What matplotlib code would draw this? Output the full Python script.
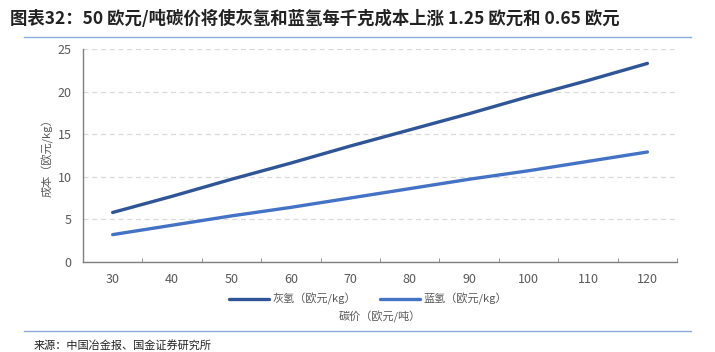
import numpy as np
import matplotlib
matplotlib.use("Agg")
import matplotlib.pyplot as plt
from matplotlib.lines import Line2D

plt.rcParams['font.family'] = ['Noto Sans CJK SC', 'DejaVu Sans']

# carbon price categories (EUR/t)
carbon_price = ['30', '40', '50', '60', '70', '80', '90', '100', '110', '120']
# hydrogen cost (EUR/kg)
grey_h2 = [5.8, 7.7, 9.7, 11.6, 13.6, 15.5, 17.4, 19.4, 21.3, 23.3]
blue_h2 = [3.2, 4.3, 5.4, 6.4, 7.5, 8.6, 9.7, 10.7, 11.8, 12.9]
yticks = [0, 5, 10, 15, 20, 25]

grey_col = '#2F5597'
blue_col = '#4472C4'
txt_col = '#595959'

fig = plt.figure(figsize=(7.15, 3.52), dpi=100)
ax = fig.add_axes([0.116, 0.256, 0.831, 0.605])

x = np.arange(len(carbon_price))
ax.plot(x, grey_h2, color=grey_col, lw=2.4, solid_capstyle='round', label='灰氢（欧元/kg）')
ax.plot(x, blue_h2, color=blue_col, lw=2.4, solid_capstyle='round', label='蓝氢（欧元/kg）')

ax.set_xlim(-0.5, len(carbon_price) - 0.5)
ax.set_ylim(0, 25)
ax.set_yticks(yticks)
ax.set_xticks(x)
ax.set_xticklabels(carbon_price)
ax.set_xticks(np.arange(0.5, len(carbon_price), 1), minor=True)
ax.tick_params(axis='x', which='major', length=0, pad=8, labelsize=9, labelcolor=txt_col)
ax.tick_params(axis='x', which='minor', direction='in', length=3, color='#7f7f7f')
ax.tick_params(axis='y', length=0, pad=8, labelsize=9, labelcolor=txt_col)
ax.yaxis.grid(True, linestyle=(0, (4, 3)), color='#d9d9d9', lw=0.9)
ax.set_axisbelow(True)
for s in ['top', 'right']:
    ax.spines[s].set_visible(False)
for s in ['left', 'bottom']:
    ax.spines[s].set_color('#7f7f7f')
    ax.spines[s].set_linewidth(1.0)

ax.set_ylabel('成本（欧元/kg）', fontsize=8, color=txt_col, labelpad=3)
ax.set_xlabel('碳价（欧元/吨）', fontsize=8, color=txt_col, labelpad=18)

leg = ax.legend(loc='upper center', bbox_to_anchor=(0.48, -0.1), ncol=2, frameon=False,
                fontsize=8, handlelength=3.6, columnspacing=2.2, handletextpad=0.3)
for t in leg.get_texts():
    t.set_color(txt_col)

fig.text(0.014, 0.945, '图表32：50 欧元/吨碳价将使灰氢和蓝氢每千克成本上涨 1.25 欧元和 0.65 欧元',
         fontsize=12.5, fontweight='bold', color='#222222', va='center')
fig.add_artist(Line2D([0.033, 0.967], [0.895, 0.895], color='#8eaadb', lw=1.0))
fig.add_artist(Line2D([0.033, 0.967], [0.06, 0.06], color='#8eaadb', lw=1.0))
fig.text(0.047, 0.02, '来源：中国冶金报、国金证券研究所', fontsize=8, color='#222222', va='center')

fig.savefig('out.png', dpi=100)
